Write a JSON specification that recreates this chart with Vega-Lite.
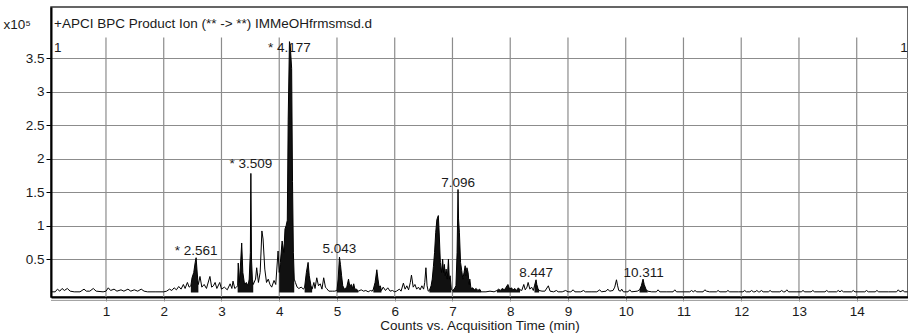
{
  "$schema": "https://vega.github.io/schema/vega-lite/v6.json",
  "width": 857,
  "height": 290,
  "autosize": {"type": "none"},
  "padding": {"left": 51, "top": 7, "right": 0, "bottom": 39},
  "background": "white",
  "config": {
    "view": {"stroke": "#333333", "strokeWidth": 1.5},
    "font": "Liberation Sans",
    "text": {"font": "Liberation Sans", "fontSize": 13.5, "color": "#1a1a1a"},
    "axisX": {"grid": false, "domain": true, "domainColor": "#000000", "domainWidth": 2,
      "ticks": true, "tickSize": 4, "tickColor": "#8c8c8c", "labelFont": "Liberation Sans", "labelFontSize": 13.5, "labelColor": "#1a1a1a", "labelPadding": 3,
      "titleFont": "Liberation Sans", "titleFontSize": 13.5, "titleFontWeight": "normal", "titleColor": "#1a1a1a", "titlePadding": 1},
    "axisY": {"grid": true, "gridColor": "#8c8c8c", "gridWidth": 1.2, "domain": true, "domainColor": "#000000", "domainWidth": 2, "format": "~g",
      "ticks": true, "tickSize": 5, "tickColor": "#000000", "labelFont": "Liberation Sans", "labelFontSize": 13.5, "labelColor": "#1a1a1a", "labelPadding": 2,
      "titleAngle": 0, "titleX": -48, "titleY": 21, "titleAlign": "left", "titleBaseline": "alphabetic", "titleFont": "Liberation Sans", "titleFontSize": 13.5, "titleFontWeight": "normal", "titleColor": "#1a1a1a"}
  },
  "datasets": {
    "trace": [
      {"t":0.05,"v":0.01},{"t":0.12,"v":0.01},{"t":0.16,"v":0.05},{"t":0.20,"v":0.02},{"t":0.24,"v":0.06},{"t":0.28,"v":0.03},{"t":0.33,"v":0.06},{"t":0.38,"v":0.02},{"t":0.45,"v":0.01},{"t":0.55,"v":0.01},{"t":0.62,"v":0.05},{"t":0.66,"v":0.02},{"t":0.72,"v":0.02},{"t":0.78,"v":0.06},{"t":0.83,"v":0.02},{"t":0.95,"v":0.01},{"t":1.00,"v":0.02},{"t":1.04,"v":0.07},{"t":1.08,"v":0.03},{"t":1.14,"v":0.05},{"t":1.19,"v":0.02},{"t":1.26,"v":0.04},{"t":1.31,"v":0.02},{"t":1.38,"v":0.05},{"t":1.43,"v":0.02},{"t":1.49,"v":0.04},{"t":1.55,"v":0.02},{"t":1.61,"v":0.05},{"t":1.66,"v":0.02},{"t":1.72,"v":0.01},{"t":1.85,"v":0.01},{"t":2.00,"v":0.01},
      {"t":2.05,"v":0.02},{"t":2.10,"v":0.05},{"t":2.14,"v":0.03},{"t":2.18,"v":0.07},{"t":2.22,"v":0.04},{"t":2.26,"v":0.09},{"t":2.30,"v":0.05},{"t":2.34,"v":0.12},{"t":2.37,"v":0.06},{"t":2.41,"v":0.15},{"t":2.44,"v":0.08},
      {"t":2.47,"v":0.10,"peak":"P1"},{"t":2.49,"v":0.22,"peak":"P1"},{"t":2.52,"v":0.30,"peak":"P1"},{"t":2.545,"v":0.45,"peak":"P1"},{"t":2.561,"v":0.52,"peak":"P1"},{"t":2.575,"v":0.35,"peak":"P1"},{"t":2.59,"v":0.18,"peak":"P1"},{"t":2.60,"v":0.12,"peak":"P1"},
      {"t":2.628,"v":0.24},{"t":2.66,"v":0.08},{"t":2.70,"v":0.12},{"t":2.74,"v":0.06},{"t":2.80,"v":0.24},{"t":2.83,"v":0.08},{"t":2.86,"v":0.10},{"t":2.89,"v":0.15},{"t":2.92,"v":0.06},{"t":2.97,"v":0.15},{"t":3.00,"v":0.05},{"t":3.05,"v":0.08},{"t":3.10,"v":0.04},{"t":3.15,"v":0.13},{"t":3.18,"v":0.06},{"t":3.20,"v":0.17},{"t":3.23,"v":0.06},{"t":3.26,"v":0.08},
      {"t":3.28,"v":0.10,"peak":"P2"},{"t":3.29,"v":0.44,"peak":"P2"},{"t":3.31,"v":0.15,"peak":"P2"},{"t":3.335,"v":0.50,"peak":"P2"},{"t":3.35,"v":0.74,"peak":"P2"},{"t":3.37,"v":0.30,"peak":"P2"},{"t":3.40,"v":0.12,"peak":"P2"},{"t":3.43,"v":0.15,"peak":"P2"},{"t":3.46,"v":0.10,"peak":"P2"},{"t":3.48,"v":0.20,"peak":"P2"},{"t":3.50,"v":0.60,"peak":"P2"},{"t":3.509,"v":1.78,"peak":"P2"},{"t":3.52,"v":0.50,"peak":"P2"},{"t":3.535,"v":0.20,"peak":"P2"},{"t":3.55,"v":0.12,"peak":"P2"},
      {"t":3.59,"v":0.20},{"t":3.61,"v":0.37},{"t":3.64,"v":0.15},{"t":3.67,"v":0.30},{"t":3.70,"v":0.92},{"t":3.72,"v":0.80},{"t":3.75,"v":0.35},{"t":3.78,"v":0.15},{"t":3.81,"v":0.20},{"t":3.84,"v":0.12},{"t":3.87,"v":0.08},{"t":3.91,"v":0.18},{"t":3.94,"v":0.12},{"t":3.98,"v":0.62},
      {"t":4.00,"v":0.30,"peak":"P3"},{"t":4.02,"v":0.45,"peak":"P3"},{"t":4.05,"v":0.77,"peak":"P3"},{"t":4.08,"v":0.60,"peak":"P3"},{"t":4.10,"v":0.95,"peak":"P3"},{"t":4.12,"v":1.00,"peak":"P3"},{"t":4.14,"v":1.08,"peak":"P3"},{"t":4.155,"v":2.58,"peak":"P3"},{"t":4.177,"v":3.75,"peak":"P3"},{"t":4.19,"v":3.70,"peak":"P3"},{"t":4.215,"v":3.35,"peak":"P3"},{"t":4.23,"v":1.66,"peak":"P3"},{"t":4.245,"v":0.60,"peak":"P3"},{"t":4.26,"v":0.20,"peak":"P3"},
      {"t":4.28,"v":0.15},{"t":4.31,"v":0.08},{"t":4.34,"v":0.06},{"t":4.38,"v":0.08},{"t":4.42,"v":0.05},
      {"t":4.44,"v":0.08,"peak":"P4"},{"t":4.47,"v":0.30,"peak":"P4"},{"t":4.50,"v":0.45,"peak":"P4"},{"t":4.52,"v":0.25,"peak":"P4"},{"t":4.55,"v":0.10,"peak":"P4"},{"t":4.57,"v":0.05,"peak":"P4"},
      {"t":4.60,"v":0.15},{"t":4.62,"v":0.06},{"t":4.65,"v":0.22},{"t":4.68,"v":0.10},{"t":4.71,"v":0.13},{"t":4.74,"v":0.05},{"t":4.77,"v":0.22},{"t":4.80,"v":0.08},{"t":4.82,"v":0.06},{"t":4.86,"v":0.02},{"t":4.92,"v":0.02},{"t":4.96,"v":0.02},
      {"t":5.00,"v":0.03,"peak":"P5"},{"t":5.02,"v":0.20,"peak":"P5"},{"t":5.043,"v":0.53,"peak":"P5"},{"t":5.06,"v":0.42,"peak":"P5"},{"t":5.08,"v":0.25,"peak":"P5"},{"t":5.10,"v":0.10,"peak":"P5"},{"t":5.13,"v":0.05,"peak":"P5"},{"t":5.17,"v":0.08,"peak":"P5"},{"t":5.20,"v":0.20,"peak":"P5"},{"t":5.22,"v":0.10,"peak":"P5"},{"t":5.25,"v":0.12,"peak":"P5"},{"t":5.27,"v":0.06,"peak":"P5"},{"t":5.29,"v":0.13,"peak":"P5"},{"t":5.31,"v":0.05,"peak":"P5"},{"t":5.34,"v":0.05,"peak":"P5"},{"t":5.37,"v":0.02,"peak":"P5"},
      {"t":5.42,"v":0.04},{"t":5.46,"v":0.02},{"t":5.50,"v":0.03},{"t":5.54,"v":0.01},{"t":5.58,"v":0.03},{"t":5.61,"v":0.02},
      {"t":5.63,"v":0.05,"peak":"P6"},{"t":5.66,"v":0.15,"peak":"P6"},{"t":5.69,"v":0.34,"peak":"P6"},{"t":5.71,"v":0.20,"peak":"P6"},{"t":5.73,"v":0.08,"peak":"P6"},{"t":5.75,"v":0.10,"peak":"P6"},{"t":5.77,"v":0.03,"peak":"P6"},
      {"t":5.80,"v":0.08},{"t":5.84,"v":0.03},{"t":5.88,"v":0.07},{"t":5.92,"v":0.02},{"t":5.96,"v":0.03},{"t":6.00,"v":0.01},{"t":6.03,"v":0.02},{"t":6.08,"v":0.05},{"t":6.11,"v":0.02},{"t":6.15,"v":0.14},{"t":6.18,"v":0.05},{"t":6.21,"v":0.10},{"t":6.24,"v":0.04},{"t":6.27,"v":0.15},{"t":6.29,"v":0.26},{"t":6.32,"v":0.08},{"t":6.35,"v":0.12},{"t":6.38,"v":0.05},{"t":6.41,"v":0.08},{"t":6.44,"v":0.04},{"t":6.47,"v":0.10},{"t":6.50,"v":0.05},{"t":6.52,"v":0.15},{"t":6.54,"v":0.37},{"t":6.56,"v":0.10},{"t":6.58,"v":0.02},
      {"t":6.60,"v":0.03,"peak":"P7"},{"t":6.63,"v":0.10,"peak":"P7"},{"t":6.65,"v":0.20,"peak":"P7"},{"t":6.67,"v":0.39,"peak":"P7"},{"t":6.69,"v":0.60,"peak":"P7"},{"t":6.71,"v":0.90,"peak":"P7"},{"t":6.73,"v":1.09,"peak":"P7"},{"t":6.755,"v":1.15,"peak":"P7"},{"t":6.77,"v":0.89,"peak":"P7"},{"t":6.79,"v":0.45,"peak":"P7"},{"t":6.81,"v":0.30,"peak":"P7"},{"t":6.83,"v":0.50,"peak":"P7"},{"t":6.845,"v":0.30,"peak":"P7"},{"t":6.86,"v":0.42,"peak":"P7"},{"t":6.875,"v":0.25,"peak":"P7"},{"t":6.89,"v":0.35,"peak":"P7"},{"t":6.91,"v":0.20,"peak":"P7"},{"t":6.93,"v":0.50,"peak":"P7"},{"t":6.945,"v":0.20,"peak":"P7"},{"t":6.96,"v":0.25,"peak":"P7"},{"t":6.98,"v":0.05,"peak":"P7"},
      {"t":7.00,"v":0.03,"peak":"P8"},{"t":7.03,"v":0.05,"peak":"P8"},{"t":7.06,"v":0.10,"peak":"P8"},{"t":7.08,"v":0.60,"peak":"P8"},{"t":7.096,"v":1.54,"peak":"P8"},{"t":7.105,"v":1.10,"peak":"P8"},{"t":7.12,"v":0.90,"peak":"P8"},{"t":7.14,"v":0.45,"peak":"P8"},{"t":7.16,"v":0.33,"peak":"P8"},{"t":7.18,"v":0.20,"peak":"P8"},{"t":7.20,"v":0.30,"peak":"P8"},{"t":7.22,"v":0.40,"peak":"P8"},{"t":7.235,"v":0.25,"peak":"P8"},{"t":7.25,"v":0.37,"peak":"P8"},{"t":7.27,"v":0.30,"peak":"P8"},{"t":7.29,"v":0.12,"peak":"P8"},{"t":7.30,"v":0.20,"peak":"P8"},{"t":7.32,"v":0.06,"peak":"P8"},{"t":7.35,"v":0.07,"peak":"P8"},{"t":7.38,"v":0.04,"peak":"P8"},{"t":7.41,"v":0.06,"peak":"P8"},{"t":7.44,"v":0.03,"peak":"P8"},{"t":7.47,"v":0.05,"peak":"P8"},{"t":7.50,"v":0.01,"peak":"P8"},
      {"t":7.58,"v":0.01},{"t":7.65,"v":0.02},{"t":7.72,"v":0.01},
      {"t":7.77,"v":0.03,"peak":"P9"},{"t":7.80,"v":0.05,"peak":"P9"},{"t":7.83,"v":0.03,"peak":"P9"},{"t":7.86,"v":0.06,"peak":"P9"},{"t":7.90,"v":0.04,"peak":"P9"},{"t":7.93,"v":0.08,"peak":"P9"},{"t":7.96,"v":0.12,"peak":"P9"},{"t":7.99,"v":0.05,"peak":"P9"},{"t":8.02,"v":0.07,"peak":"P9"},{"t":8.05,"v":0.04,"peak":"P9"},{"t":8.08,"v":0.06,"peak":"P9"},{"t":8.11,"v":0.03,"peak":"P9"},{"t":8.14,"v":0.07,"peak":"P9"},{"t":8.17,"v":0.04,"peak":"P9"},
      {"t":8.20,"v":0.03},{"t":8.235,"v":0.12},{"t":8.26,"v":0.04},{"t":8.29,"v":0.08},{"t":8.31,"v":0.15},{"t":8.34,"v":0.05},{"t":8.37,"v":0.08},{"t":8.40,"v":0.03},
      {"t":8.42,"v":0.10,"peak":"P10"},{"t":8.447,"v":0.19,"peak":"P10"},{"t":8.46,"v":0.12,"peak":"P10"},{"t":8.48,"v":0.06,"peak":"P10"},{"t":8.50,"v":0.03,"peak":"P10"},
      {"t":8.55,"v":0.02},{"t":8.60,"v":0.02},{"t":8.66,"v":0.10},{"t":8.69,"v":0.02},{"t":8.75,"v":0.01},{"t":8.80,"v":0.03},{"t":8.83,"v":0.01},{"t":8.90,"v":0.01},{"t":8.96,"v":0.03},{"t":9.00,"v":0.01},{"t":9.05,"v":0.01},{"t":9.09,"v":0.04},{"t":9.12,"v":0.01},{"t":9.22,"v":0.01},{"t":9.27,"v":0.03},{"t":9.30,"v":0.01},{"t":9.40,"v":0.01},{"t":9.50,"v":0.01},{"t":9.55,"v":0.04},{"t":9.58,"v":0.01},{"t":9.66,"v":0.02},{"t":9.69,"v":0.05},{"t":9.72,"v":0.02},{"t":9.78,"v":0.03},{"t":9.81,"v":0.08},{"t":9.84,"v":0.19},{"t":9.86,"v":0.10},{"t":9.88,"v":0.03},{"t":9.91,"v":0.02},{"t":9.93,"v":0.05},{"t":9.96,"v":0.01},{"t":10.04,"v":0.01},{"t":10.07,"v":0.04},{"t":10.10,"v":0.01},{"t":10.20,"v":0.02},
      {"t":10.24,"v":0.04,"peak":"P11"},{"t":10.27,"v":0.10,"peak":"P11"},{"t":10.30,"v":0.20,"peak":"P11"},{"t":10.32,"v":0.12,"peak":"P11"},{"t":10.35,"v":0.05,"peak":"P11"},{"t":10.38,"v":0.02,"peak":"P11"},
      {"t":10.45,"v":0.01},{"t":10.53,"v":0.01},{"t":10.56,"v":0.04},{"t":10.59,"v":0.01},{"t":10.70,"v":0.01},{"t":10.82,"v":0.01},{"t":10.85,"v":0.04},{"t":10.88,"v":0.01},{"t":11.00,"v":0.01},{"t":11.11,"v":0.01},{"t":11.14,"v":0.03},{"t":11.17,"v":0.01},{"t":11.20,"v":0.03},{"t":11.23,"v":0.01},{"t":11.34,"v":0.01},{"t":11.37,"v":0.04},{"t":11.40,"v":0.02},{"t":11.45,"v":0.01},{"t":11.57,"v":0.01},{"t":11.60,"v":0.03},{"t":11.63,"v":0.01},{"t":11.74,"v":0.01},{"t":11.77,"v":0.03},{"t":11.80,"v":0.01},{"t":11.95,"v":0.01},{"t":12.03,"v":0.01},{"t":12.06,"v":0.03},{"t":12.09,"v":0.01},{"t":12.15,"v":0.01},{"t":12.18,"v":0.03},{"t":12.21,"v":0.01},{"t":12.24,"v":0.01},{"t":12.27,"v":0.03},{"t":12.30,"v":0.01},{"t":12.32,"v":0.01},{"t":12.35,"v":0.03},{"t":12.38,"v":0.01},{"t":12.47,"v":0.01},{"t":12.50,"v":0.03},{"t":12.53,"v":0.01},{"t":12.67,"v":0.01},{"t":12.70,"v":0.03},{"t":12.73,"v":0.01},{"t":12.76,"v":0.01},{"t":12.79,"v":0.04},{"t":12.82,"v":0.01},{"t":12.95,"v":0.01},{"t":13.04,"v":0.01},{"t":13.07,"v":0.03},{"t":13.10,"v":0.01},{"t":13.21,"v":0.01},{"t":13.24,"v":0.03},{"t":13.27,"v":0.01},{"t":13.45,"v":0.01},{"t":13.48,"v":0.03},{"t":13.51,"v":0.01},{"t":13.65,"v":0.01},{"t":13.68,"v":0.03},{"t":13.71,"v":0.01},{"t":13.74,"v":0.03},{"t":13.77,"v":0.01},{"t":13.91,"v":0.01},{"t":13.94,"v":0.03},{"t":13.97,"v":0.01},{"t":14.14,"v":0.01},{"t":14.17,"v":0.03},{"t":14.20,"v":0.01},{"t":14.32,"v":0.01},{"t":14.35,"v":0.03},{"t":14.38,"v":0.01},{"t":14.55,"v":0.01},{"t":14.69,"v":0.01},{"t":14.72,"v":0.04},{"t":14.75,"v":0.01},{"t":14.80,"v":0.03},{"t":14.83,"v":0.01},{"t":14.88,"v":0.01}
    ],
    "labels": [
      {"t":2.561,"label":"* 2.561","at":0.56},
      {"t":3.509,"label":"* 3.509","at":1.86},
      {"t":4.177,"label":"* 4.177","at":3.59},
      {"t":5.043,"label":"5.043","at":0.59},
      {"t":7.096,"label":"7.096","at":1.58},
      {"t":8.447,"label":"8.447","at":0.23},
      {"t":10.311,"label":"10.311","at":0.23}
    ],
    "notes": [
      {"t":0.1,"at":3.95,"text":"+APCI BPC Product Ion (** -> **) IMMeOHfrmsmsd.d"},
      {"t":0.1,"at":3.595,"text":"1"},
      {"t":14.755,"at":3.595,"text":"1"}
    ],
    "grid": [
      {"t":1},{"t":2},{"t":3},{"t":4},{"t":5},{"t":6},{"t":7},{"t":8},{"t":9},{"t":10},{"t":11},{"t":12},{"t":13},{"t":14}
    ],
    "base": [{"t0":0.048,"t1":14.888,"lvl":-0.118}]
  },
  "layer": [
    {
      "data": {"name": "grid"},
      "mark": {"type": "rule", "stroke": "#8c8c8c", "strokeWidth": 1.2},
      "encoding": {
        "x": {"field": "t", "type": "quantitative", "scale": {"domain": [0.048, 14.888], "nice": false, "zero": false},
          "axis": {"values": [1,2,3,4,5,6,7,8,9,10,11,12,13,14]}, "title": "Counts vs. Acquisition Time (min)"},
        "y": {"datum": 3.81, "type": "quantitative", "scale": {"domain": [-0.0673, 4.2676], "nice": false, "zero": false},
          "axis": {"values": [0.5,1,1.5,2,2.5,3,3.5]}, "title": "x10⁵"},
        "y2": {"datum": -0.0673}
      }
    },
    {
      "data": {"name": "base"},
      "mark": {"type": "rule", "stroke": "#9a9a9a", "strokeWidth": 1},
      "encoding": {
        "x": {"field": "t0", "type": "quantitative", "axis": {"values": [1,2,3,4,5,6,7,8,9,10,11,12,13,14]}, "title": "Counts vs. Acquisition Time (min)"},
        "x2": {"field": "t1"},
        "y": {"field": "lvl", "type": "quantitative", "axis": {"values": [0.5,1,1.5,2,2.5,3,3.5]}, "title": "x10⁵"}
      }
    },
    {
      "data": {"name": "trace"},
      "transform": [{"filter": "isValid(datum.peak)"}],
      "mark": {"type": "area", "color": "#111111", "interpolate": "linear"},
      "encoding": {
        "x": {"field": "t", "type": "quantitative", "axis": {"values": [1,2,3,4,5,6,7,8,9,10,11,12,13,14]}, "title": "Counts vs. Acquisition Time (min)"},
        "y": {"field": "v", "type": "quantitative", "stack": null, "axis": {"values": [0.5,1,1.5,2,2.5,3,3.5]}, "title": "x10⁵"},
        "detail": {"field": "peak"}
      }
    },
    {
      "data": {"name": "trace"},
      "mark": {"type": "line", "color": "#000000", "strokeWidth": 1},
      "encoding": {
        "x": {"field": "t", "type": "quantitative", "axis": {"values": [1,2,3,4,5,6,7,8,9,10,11,12,13,14]}, "title": "Counts vs. Acquisition Time (min)"},
        "y": {"field": "v", "type": "quantitative", "axis": {"values": [0.5,1,1.5,2,2.5,3,3.5]}, "title": "x10⁵"}
      }
    },
    {
      "data": {"name": "labels"},
      "mark": {"type": "text", "align": "center", "baseline": "alphabetic", "fontSize": 13.5, "color": "#1a1a1a"},
      "encoding": {
        "x": {"field": "t", "type": "quantitative", "axis": {"values": [1,2,3,4,5,6,7,8,9,10,11,12,13,14]}, "title": "Counts vs. Acquisition Time (min)"},
        "y": {"field": "at", "type": "quantitative", "axis": {"values": [0.5,1,1.5,2,2.5,3,3.5]}, "title": "x10⁵"},
        "text": {"field": "label"}
      }
    },
    {
      "data": {"name": "notes"},
      "mark": {"type": "text", "align": "left", "baseline": "alphabetic", "fontSize": 13.5, "color": "#1a1a1a"},
      "encoding": {
        "x": {"field": "t", "type": "quantitative", "axis": {"values": [1,2,3,4,5,6,7,8,9,10,11,12,13,14]}, "title": "Counts vs. Acquisition Time (min)"},
        "y": {"field": "at", "type": "quantitative", "axis": {"values": [0.5,1,1.5,2,2.5,3,3.5]}, "title": "x10⁵"},
        "text": {"field": "text"}
      }
    }
  ]
}
